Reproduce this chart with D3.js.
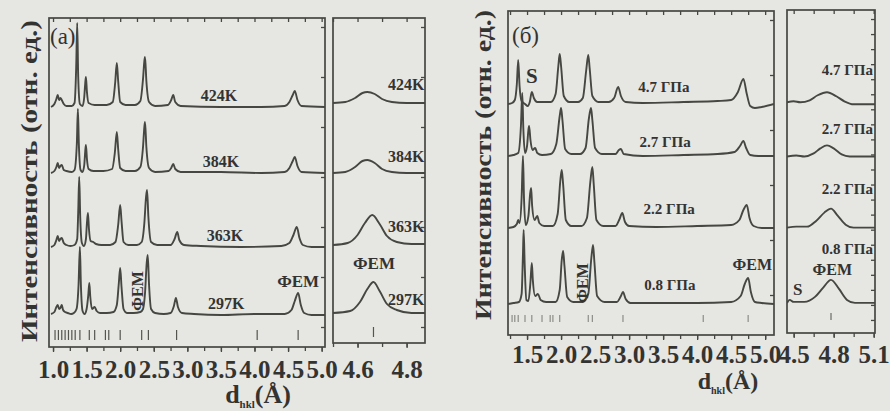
<!DOCTYPE html>
<html>
<head>
<meta charset="utf-8">
<script src="https://cdn.jsdelivr.net/npm/d3@7"></script>
<style>
  body { margin: 0; background: #e6e6e2; }
  svg { display: block; }
  svg text { font-family: "Liberation Serif", serif; }
</style>
</head>
<body>
<svg id="chart" width="890" height="411"></svg>
<script>
// ---- panel (a): temperature series ----
var tempLabels = ["424K", "384K", "363K", "297K"];
var tempOffsets = [240, 174, 100, 32];
var temp424 = [[0.97,0],[1.02,3],[1.05,8],[1.07,12],[1.09,7],[1.11,9],[1.13,7],[1.16,3],[1.20,1],[1.28,1],[1.32,4],[1.345,40],[1.36,84],[1.375,30],[1.40,3],[1.44,1],[1.465,10],[1.48,24],[1.49,30],[1.505,15],[1.53,4],[1.62,2],[1.80,2],[1.89,5],[1.925,24],[1.95,44],[1.97,26],[2.0,5],[2.08,2],[2.22,2],[2.30,6],[2.34,28],[2.36,46],[2.37,50],[2.39,26],[2.43,5],[2.52,1],[2.71,2],[2.76,7],[2.79,12],[2.82,5],[2.9,1],[3.5,0],[4.1,0],[4.45,1],[4.52,5],[4.57,12],[4.60,16],[4.64,7],[4.70,1],[5.05,0]];
var temp384 = [[0.97,0],[1.02,2],[1.05,6],[1.07,10],[1.09,5],[1.11,7],[1.13,8],[1.16,3],[1.20,2],[1.28,1],[1.32,3],[1.355,30],[1.37,64],[1.385,28],[1.41,3],[1.44,1],[1.465,8],[1.48,22],[1.49,28],[1.505,14],[1.53,4],[1.60,2],[1.75,2],[1.88,4],[1.92,20],[1.95,41],[1.97,24],[2.0,5],[2.08,2],[2.22,2],[2.30,6],[2.34,26],[2.36,46],[2.37,51],[2.39,26],[2.43,5],[2.52,1],[2.72,2],[2.76,5],[2.79,9],[2.82,4],[2.9,1],[3.5,1],[4.1,0],[4.45,1],[4.52,5],[4.57,12],[4.60,16],[4.64,7],[4.70,1],[5.05,0]];
var temp363 = [[0.97,0],[1.02,2],[1.05,7],[1.07,11],[1.09,6],[1.11,8],[1.13,9],[1.16,4],[1.20,2],[1.26,1],[1.32,2],[1.36,8],[1.375,35],[1.39,70],[1.405,30],[1.43,4],[1.46,1],[1.49,8],[1.505,24],[1.52,34],[1.535,18],[1.56,6],[1.60,5],[1.64,3],[1.72,2],[1.85,2],[1.93,5],[1.97,22],[2.0,42],[2.02,26],[2.05,5],[2.12,2],[2.25,2],[2.32,5],[2.36,24],[2.385,50],[2.40,57],[2.42,30],[2.46,5],[2.55,2],[2.75,2],[2.81,8],[2.85,15],[2.88,7],[2.95,2],[3.2,1],[3.8,0],[4.4,1],[4.52,4],[4.58,12],[4.63,20],[4.67,9],[4.72,2],[4.85,0],[5.05,0]];
var temp297 = [[0.97,1],[1.02,3],[1.05,8],[1.07,10],[1.09,6],[1.11,7],[1.13,10],[1.15,5],[1.18,3],[1.22,2],[1.27,1],[1.31,2],[1.35,6],[1.38,30],[1.40,68],[1.415,30],[1.44,4],[1.47,1],[1.50,6],[1.525,20],[1.54,32],[1.555,18],[1.58,6],[1.62,8],[1.65,4],[1.70,2],[1.80,2],[1.90,3],[1.95,10],[1.98,32],[2.0,47],[2.02,28],[2.05,6],[2.10,2],[2.20,2],[2.30,3],[2.34,6],[2.37,22],[2.395,52],[2.41,60],[2.43,30],[2.46,6],[2.52,2],[2.65,1],[2.75,2],[2.80,9],[2.83,17],[2.86,8],[2.92,2],[3.1,1],[3.5,0],[4.0,1],[4.45,1],[4.55,5],[4.60,14],[4.65,22],[4.69,10],[4.74,2],[4.85,0],[5.05,0]];
var tempZoomOffsets = [244, 174, 102, 34];
var tempZoom424 = [[4.5,0],[4.55,1],[4.59,5],[4.62,10],[4.64,11],[4.67,9],[4.70,4],[4.74,1],[4.8,0],[4.875,0]];
var tempZoom384 = [[4.5,0],[4.55,1],[4.59,6],[4.62,12],[4.64,13],[4.67,10],[4.70,4],[4.74,1],[4.8,0],[4.875,0]];
var tempZoom363 = [[4.5,0],[4.56,2],[4.60,10],[4.63,22],[4.66,30],[4.69,21],[4.72,9],[4.76,3],[4.82,1],[4.875,1]];
var tempZoom297 = [[4.5,0],[4.57,2],[4.61,11],[4.64,24],[4.665,31],[4.69,22],[4.72,9],[4.76,3],[4.82,0],[4.875,0]];
var braggA = [1.03,1.08,1.13,1.18,1.23,1.28,1.33,1.40,1.54,1.62,1.78,1.83,2.0,2.32,2.42,2.84,4.04,4.65];
var braggZoomA = [4.665];
var ticksMainA = [1.0,1.5,2.0,2.5,3.0,3.5,4.0,4.5,5.0];
var ticksZoomA = [4.6,4.8];

// ---- panel (б): pressure series ----
var pressLabels = ["4.7 ГПа", "2.7 ГПа", "2.2 ГПа", "0.8 ГПа"];
var pressOffsets = [231, 179, 107, 31];
var press47 = [[1.22,0],[1.28,1],[1.32,4],[1.35,20],[1.37,44],[1.39,18],[1.42,3],[1.47,0],[1.51,-2],[1.54,2],[1.57,12],[1.60,6],[1.65,2],[1.72,2],[1.85,2],[1.92,10],[1.96,38],[1.98,50],[2.00,38],[2.04,8],[2.12,2],[2.25,2],[2.32,6],[2.37,34],[2.40,49],[2.42,36],[2.46,8],[2.55,2],[2.70,2],[2.78,6],[2.84,17],[2.88,8],[2.95,2],[3.2,1],[3.8,2],[4.3,3],[4.5,4],[4.60,12],[4.68,25],[4.73,10],[4.78,-2],[4.85,-4],[4.95,-3],[5.13,0]];
var press27 = [[1.22,0],[1.30,1],[1.37,3],[1.41,30],[1.43,63],[1.445,28],[1.47,3],[1.50,10],[1.52,26],[1.53,30],[1.55,16],[1.58,6],[1.62,8],[1.65,3],[1.72,1],[1.85,2],[1.93,12],[1.98,40],[2.00,48],[2.02,36],[2.06,7],[2.15,2],[2.28,2],[2.36,8],[2.41,38],[2.44,48],[2.46,36],[2.50,8],[2.60,2],[2.80,2],[2.85,6],[2.88,7],[2.92,2],[3.2,0],[3.8,1],[4.3,2],[4.55,4],[4.63,10],[4.68,15],[4.72,8],[4.78,1],[4.90,0],[5.13,0]];
var press22 = [[1.22,0],[1.30,1],[1.35,4],[1.37,8],[1.39,5],[1.42,30],[1.44,72],[1.455,30],[1.48,3],[1.52,12],[1.545,34],[1.56,40],[1.575,22],[1.61,8],[1.65,12],[1.68,5],[1.75,2],[1.88,2],[1.95,14],[1.99,48],[2.01,58],[2.03,44],[2.07,8],[2.15,2],[2.30,2],[2.38,10],[2.43,46],[2.46,61],[2.48,44],[2.52,8],[2.62,2],[2.80,2],[2.86,9],[2.90,15],[2.94,6],[3.0,2],[3.4,1],[4.0,2],[4.5,3],[4.62,8],[4.68,18],[4.73,23],[4.77,10],[4.83,2],[4.95,0],[5.13,0]];
var press08 = [[1.22,0],[1.30,1],[1.38,2],[1.42,10],[1.44,50],[1.45,74],[1.465,40],[1.49,4],[1.52,3],[1.55,22],[1.57,41],[1.585,24],[1.62,8],[1.66,10],[1.70,4],[1.78,2],[1.92,2],[1.98,14],[2.01,44],[2.03,53],[2.05,38],[2.09,7],[2.18,2],[2.32,2],[2.40,10],[2.445,46],[2.47,59],[2.49,42],[2.53,8],[2.64,2],[2.82,2],[2.88,8],[2.91,12],[2.95,5],[3.02,1],[3.5,1],[4.0,1],[4.5,2],[4.64,8],[4.70,20],[4.75,26],[4.79,12],[4.85,2],[4.95,1],[5.13,0]];
var pressZoomOffsets = [232, 178, 107, 32];
var pressZoom47 = [[4.45,0],[4.50,1],[4.55,0],[4.62,2],[4.68,7],[4.75,10],[4.82,6],[4.88,1],[4.95,-2],[5.05,-2],[5.11,-2]];
var pressZoom27 = [[4.45,0],[4.52,1],[4.58,0],[4.65,3],[4.70,8],[4.75,11],[4.80,8],[4.86,2],[4.92,0],[5.0,0],[5.11,0]];
var pressZoom22 = [[4.45,0],[4.52,1],[4.60,1],[4.67,7],[4.73,15],[4.78,19],[4.83,12],[4.89,3],[4.95,0],[5.11,0]];
var pressZoom08 = [[4.45,0],[4.47,3],[4.50,1],[4.58,1],[4.66,6],[4.72,15],[4.78,23],[4.84,14],[4.90,3],[4.96,0],[5.11,0]];
var braggB = [1.28,1.32,1.37,1.47,1.57,1.72,1.84,1.88,1.98,2.40,2.46,2.91,4.09,4.75];
var braggZoomB = [4.78];
var ticksMainB = [1.5,2.0,2.5,3.0,3.5,4.0,4.5,5.0];
var ticksZoomB = [4.5,4.8,5.1];

var INK = "#333331", LINE = "#464642";
var svg = d3.select("#chart");
svg.append("rect").attr("width", 890).attr("height", 411).attr("fill", "#e6e6e2");

var clipN = 0;
function panel(cfg) {
    var x = d3.scaleLinear().domain(cfg.xDomain).range([cfg.left, cfg.right]);
    var y = d3.scaleLinear().domain(cfg.yDomain).range([cfg.yBottom, cfg.yTop]);
    var g = svg.append("g");
    var id = "clip" + (clipN++);
    svg.append("clipPath").attr("id", id).append("rect")
        .attr("x", cfg.left).attr("y", cfg.yTop)
        .attr("width", cfg.right - cfg.left).attr("height", cfg.frameBottom - cfg.yTop);

    var line = d3.line().x(function (d) { return x(d[0]); })
        .y(function (d) { return y(d[1]); }).curve(d3.curveMonotoneX);

    g.append("g").attr("clip-path", "url(#" + id + ")")
        .selectAll("path").data(cfg.traces).join("path")
        .attr("d", function (t, i) {
            return line(t.map(function (p) { return [p[0], p[1] + cfg.offsets[i]]; }));
        })
        .attr("fill", "none").attr("stroke", LINE).attr("stroke-width", 1.9)
        .attr("stroke-linejoin", "round");

    // reflection markers
    g.selectAll("line.bragg").data(cfg.bragg).join("line").attr("class", "bragg")
        .attr("x1", function (d) { return x(d); }).attr("x2", function (d) { return x(d); })
        .attr("y1", y(cfg.braggY[0])).attr("y2", y(cfg.braggY[1]))
        .attr("stroke", cfg.braggColor).attr("stroke-width", 1.2);

    // ticks
    g.append("g").attr("transform", "translate(0," + cfg.frameBottom + ")")
        .call(d3.axisBottom(x).tickValues(cfg.minor).tickSize(4).tickFormat(""));
    var lab = g.append("g").attr("transform", "translate(0," + cfg.frameBottom + ")")
        .call(d3.axisBottom(x).tickValues(cfg.major).tickSize(5).tickPadding(cfg.pad)
            .tickFormat(d3.format(".1f")));
    lab.attr("font-family", null).attr("font-size", null);
    lab.selectAll("text").attr("font-size", cfg.fs).attr("font-weight", "bold")
        .attr("font-family", "Liberation Serif").attr("fill", INK);
    g.append("g").attr("transform", "translate(0," + cfg.yTop + ")")
        .call(d3.axisTop(x).tickValues(cfg.minor).tickSize(-4).tickFormat(""));
    g.append("g").attr("transform", "translate(" + cfg.right + ",0)")
        .call(d3.axisRight(y).tickValues(cfg.rightTicks).tickSize(-4).tickFormat(""));
    g.selectAll(".domain").remove();
    g.selectAll(".tick line").attr("stroke", LINE).attr("stroke-width", 1.3);

    g.append("rect").attr("x", cfg.left).attr("y", cfg.yTop)
        .attr("width", cfg.right - cfg.left).attr("height", cfg.frameBottom - cfg.yTop)
        .attr("fill", "none").attr("stroke", LINE).attr("stroke-width", 1.7);
    return { x: x, y: y };
}

function label(p, txt, d, v, opt) {
    opt = opt || {};
    var t = svg.append("text").text(txt)
        .attr("x", p.x(d)).attr("y", p.y(v))
        .attr("font-size", opt.fs || 15).attr("font-weight", "bold")
        .attr("fill", INK).attr("text-anchor", opt.anchor || "middle");
    if (opt.rotate) {
        t.attr("dominant-baseline", "central")
            .attr("transform", "rotate(-90," + p.x(d) + "," + p.y(v) + ")");
    }
    return t;
}

// ---- panel (a) ----
var mainA = panel({
    left: 49, right: 325, yTop: 18, yBottom: 347, frameBottom: 347,
    xDomain: [0.94, 5.05], yDomain: [0, 329],
    traces: [temp424, temp384, temp363, temp297], offsets: tempOffsets,
    bragg: braggA, braggY: [7, 17], braggColor: "#555550",
    major: ticksMainA, minor: d3.range(1.0, 5.01, 0.25),
    rightTicks: d3.range(20, 329, 50), pad: 8, fs: 25
});
var zoomA = panel({
    left: 333, right: 425, yTop: 18, yBottom: 347, frameBottom: 343,
    xDomain: [4.5, 4.875], yDomain: [0, 329],
    traces: [tempZoom424, tempZoom384, tempZoom363, tempZoom297], offsets: tempZoomOffsets,
    bragg: braggZoomA, braggY: [10, 20], braggColor: "#555550",
    major: ticksZoomA, minor: [4.5, 4.6, 4.7, 4.8],
    rightTicks: d3.range(20, 329, 50), pad: 12, fs: 25
});

var tempLabelD = [3.47, 3.50, 3.56, 3.58];
tempLabels.forEach(function (s, i) {
    label(mainA, s, tempLabelD[i], tempOffsets[i] + 6, { fs: 16 });
});
var tempZoomLift = [13, 11, 13, 8];
tempLabels.forEach(function (s, i) {
    label(zoomA, s, 4.873, tempZoomOffsets[i] + tempZoomLift[i], { fs: 16, anchor: "end" });
});
label(mainA, "ФЕМ", 4.65, 60, { fs: 17 });
label(mainA, "ФЕМ", 2.265, 56, { fs: 16, rotate: true });
label(zoomA, "ФЕМ", 4.667, 78, { fs: 17 });

// ---- panel (б) ----
var mainB = panel({
    left: 508, right: 774, yTop: 11, yBottom: 335, frameBottom: 335,
    xDomain: [1.22, 5.13], yDomain: [0, 324],
    traces: [press47, press27, press22, press08], offsets: pressOffsets,
    bragg: braggB, braggY: [13, 20], braggColor: "#8d8d88",
    major: ticksMainB, minor: d3.range(1.25, 5.01, 0.25),
    rightTicks: d3.range(40, 324, 55), pad: 5, fs: 25
});
var zoomB = panel({
    left: 787, right: 875, yTop: 10, yBottom: 335, frameBottom: 333,
    xDomain: [4.45, 5.11], yDomain: [0, 324],
    traces: [pressZoom47, pressZoom27, pressZoom22, pressZoom08], offsets: pressZoomOffsets,
    bragg: braggZoomB, braggY: [15, 22], braggColor: "#6a6a66",
    major: ticksZoomB, minor: [4.5, 4.65, 4.8, 4.95, 5.1],
    rightTicks: d3.range(15, 324, 15), pad: 7, fs: 25
});

var pressLabelD = [3.51, 3.53, 3.59, 3.60];
var pressLift = [12, 9, 14, 14];
pressLabels.forEach(function (s, i) {
    label(mainB, s, pressLabelD[i], pressOffsets[i] + pressLift[i], { fs: 15 });
});
var pressZoomLift = [27, 22, 34, 49];
pressLabels.forEach(function (s, i) {
    label(zoomB, s, 5.095, pressZoomOffsets[i] + pressZoomLift[i], { fs: 15, anchor: "end" });
});
label(mainB, "ФЕМ", 4.81, 65, { fs: 16 });
label(mainB, "ФЕМ", 2.31, 52, { fs: 16, rotate: true });
label(zoomB, "ФЕМ", 4.79, 60, { fs: 16 });
label(mainB, "S", 1.57, 252, { fs: 21 });
label(zoomB, "S", 4.53, 40, { fs: 17 });

// ---- panel letters and axis titles ----
svg.append("text").text("(a)").attr("x", 50).attr("y", 44)
    .attr("font-size", 23).attr("fill", INK);
svg.append("text").text("(б)").attr("x", 512).attr("y", 43)
    .attr("font-size", 23).attr("fill", INK);

function yTitle(cx, cy, len, fs) {
    svg.append("text").text("Интенсивность (отн. ед.)")
        .attr("x", cx).attr("y", cy).attr("text-anchor", "middle")
        .attr("transform", "rotate(-90," + cx + "," + cy + ")")
        .attr("font-size", fs).attr("font-weight", "bold").attr("fill", INK)
        .attr("textLength", len).attr("lengthAdjust", "spacingAndGlyphs");
}
yTitle(37, 181, 322, 24);
yTitle(491, 165, 310, 23);

function xTitle(cx, by, fs) {
    var t = svg.append("text").attr("x", cx).attr("y", by).attr("text-anchor", "middle")
        .attr("font-weight", "bold").attr("fill", INK).attr("font-size", fs);
    t.append("tspan").text("d");
    t.append("tspan").text("hkl").attr("font-size", fs * 0.42).attr("dy", fs * 0.2);
    t.append("tspan").text("(Å)").attr("dy", -fs * 0.2);
}
xTitle(258, 403, 26);
xTitle(728, 389, 24);
</script>
</body>
</html>
